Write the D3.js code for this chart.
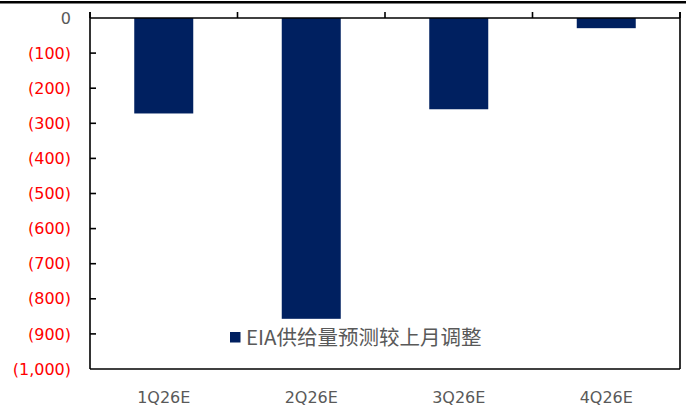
<!DOCTYPE html>
<html>
<head>
<meta charset="utf-8">
<script src="https://cdn.jsdelivr.net/npm/d3@7/dist/d3.min.js"></script>
<style>
  html, body { margin: 0; padding: 0; background: #fff; }
  svg { display: block; }
</style>
</head>
<body>
<svg id="chart" width="688" height="407"></svg>
<script>
const categories = ["1Q26E", "2Q26E", "3Q26E", "4Q26E"];
const values = [-272, -857, -260, -29];
const yTicks = [0, -100, -200, -300, -400, -500, -600, -700, -800, -900, -1000];
const seriesName = "EIA供给量预测较上月调整";

(function () {
const svg = d3.select("#chart");
const mLeft = 90, mRight = 680, mTop = 18, mBottom = 369;
const barColor = "#002060";
const gray = "#595959";

const x = d3.scaleBand().domain(categories).range([mLeft, mRight])
  .paddingInner(0.6).paddingOuter(0.3);
const y = d3.scaleLinear().domain([-1000, 0]).range([mBottom, mTop]);

// top decorative line
svg.append("line").attr("x1", 0).attr("x2", 686).attr("y1", 2.2).attr("y2", 2.2)
  .attr("stroke", "#000").attr("stroke-width", 2.4);

// bars
svg.append("g").selectAll("rect").data(values).join("rect")
  .attr("x", (d, i) => x(categories[i]))
  .attr("width", x.bandwidth())
  .attr("y", d => y(Math.max(0, d)))
  .attr("height", d => Math.abs(y(d) - y(0)))
  .attr("fill", barColor);

// frame: left, right, bottom
const frame = svg.append("g").attr("stroke", "#000").attr("stroke-width", 1.6);
frame.append("line").attr("x1", mLeft).attr("x2", mLeft).attr("y1", mTop - 6).attr("y2", mBottom);
frame.append("line").attr("x1", mRight).attr("x2", mRight).attr("y1", mTop - 6).attr("y2", mBottom);
frame.append("line").attr("x1", mLeft).attr("x2", mRight).attr("y1", mBottom).attr("y2", mBottom);

// x axis at zero (top) with ticks upward at category boundaries
const step = x.step();
const boundaries = categories.map(c => x(c) - x.paddingInner() * step / 2).concat([mRight]);
frame.append("line").attr("x1", mLeft).attr("x2", mRight).attr("y1", y(0)).attr("y2", y(0));
frame.selectAll(".xt").data(boundaries).join("line")
  .attr("x1", d => d).attr("x2", d => d)
  .attr("y1", y(0)).attr("y2", y(0) - 6);

// y ticks inward
frame.selectAll(".yt").data(yTicks.slice(1, -1)).join("line")
  .attr("x1", mLeft).attr("x2", mLeft + 6)
  .attr("y1", d => y(d)).attr("y2", d => y(d));

// y labels
const fmt = d3.format(",");
svg.append("g").selectAll("text").data(yTicks).join("text")
  .attr("x", 71).attr("y", d => y(d))
  .attr("dy", "0.35em")
  .attr("text-anchor", "end")
  .attr("font-family", "DejaVu Sans")
  .attr("font-size", 16)
  .attr("fill", d => d === 0 ? gray : "#FF0000")
  .text(d => d === 0 ? "0" : "(" + fmt(Math.abs(d)) + ")");

// x labels
svg.append("g").selectAll("text").data(categories).join("text")
  .attr("x", d => x(d) + x.bandwidth() / 2)
  .attr("y", 403)
  .attr("text-anchor", "middle")
  .attr("font-family", "DejaVu Sans")
  .attr("font-size", 16)
  .attr("fill", gray)
  .text(d => d);

// legend
const lg = svg.append("g");
lg.append("rect").attr("x", 230).attr("y", 332).attr("width", 10.5).attr("height", 10.5).attr("fill", barColor);
lg.append("text").attr("x", 246).attr("y", 344.5)
  .attr("font-family", "Noto Sans CJK SC")
  .attr("font-size", 20.5)
  .attr("fill", gray)
  .text(seriesName);
})();
</script>
</body>
</html>
